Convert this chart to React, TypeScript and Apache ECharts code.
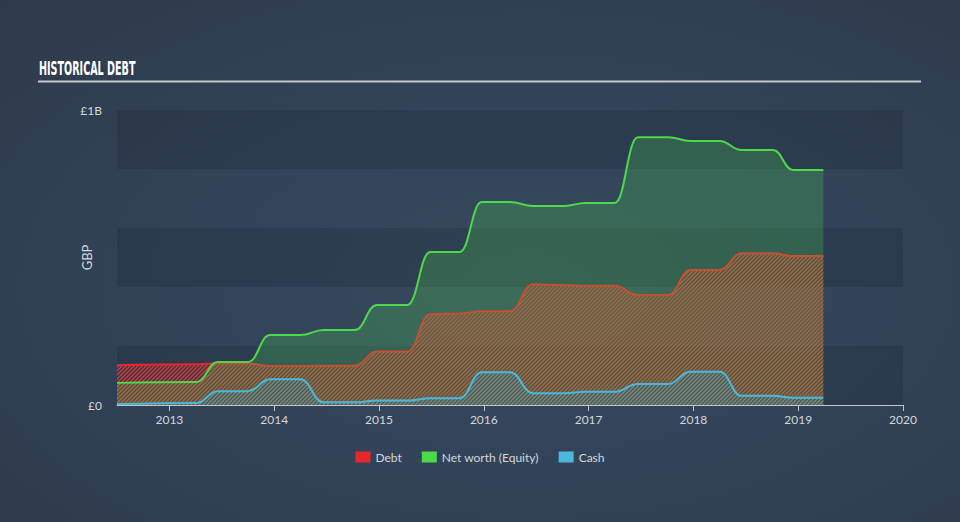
import React, { useEffect, useRef } from "react";
import * as echarts from "echarts";

// Decimal-year dates of the reported points (each value held flat between pairs)
const dates = [
  2012.5, 2013.26, 2013.46, 2013.75, 2013.96, 2014.25, 2014.47, 2014.77, 2014.98,
  2015.27, 2015.49, 2015.77, 2015.98, 2016.25, 2016.47, 2016.77, 2016.97, 2017.25,
  2017.47, 2017.76, 2017.97, 2018.25, 2018.46, 2018.76, 2018.95, 2019.24,
];
// Values in GBP millions
const debt = [
  135, 138, 141, 141, 132, 132, 133, 133, 181, 181, 308, 310, 318, 318, 409, 406,
  404, 404, 373, 373, 458, 458, 514, 514, 505, 505,
];
const equity = [
  75, 78, 146, 146, 237, 237, 254, 254, 339, 339, 519, 519, 688, 688, 675, 675,
  685, 685, 908, 908, 895, 895, 864, 864, 797, 797,
];
const cash = [
  3, 7, 47, 47, 87, 87, 9, 9, 15, 15, 23, 23, 111, 111, 40, 40, 45, 45, 71, 71,
  113, 113, 31, 31, 25, 25,
];
const yearTicks = [2013, 2014, 2015, 2016, 2017, 2018, 2019, 2020];
const seriesNames = ["Debt", "Net worth (Equity)", "Cash"];

function hatch(color: string) {
  const s = 4;
  const c = document.createElement("canvas");
  c.width = s;
  c.height = s;
  const ctx = c.getContext("2d")!;
  ctx.strokeStyle = color;
  ctx.lineWidth = 1.5;
  ctx.beginPath();
  ctx.moveTo(0, s);
  ctx.lineTo(s, 0);
  ctx.moveTo(-s / 2, s / 2);
  ctx.lineTo(s / 2, -s / 2);
  ctx.moveTo(s / 2, (3 * s) / 2);
  ctx.lineTo((3 * s) / 2, s / 2);
  ctx.stroke();
  return { image: c, repeat: "repeat", imageWidth: s, imageHeight: s } as any;
}

export default function App() {
  const ref = useRef<HTMLDivElement>(null);
  useEffect(() => {
    document.body.style.margin = "0";
    const chart = echarts.init(ref.current!, null, { renderer: "svg" });
    const pair = (vals: number[]) => dates.map((d, i) => [d, vals[i]]);
    const font = "Lato, 'Open Sans', sans-serif";
    chart.setOption({
      animation: false,
      backgroundColor: "transparent",
      textStyle: { fontFamily: font },
      graphic: [
        {
          type: "text",
          x: 39,
          y: 58,
          scaleX: 0.48,
          style: {
            text: "HISTORICAL DEBT",
            fill: "#ffffff",
            font: "bold 20px 'DejaVu Sans', sans-serif",
            textVerticalAlign: "top",
          },
        },
        {
          type: "line",
          shape: { x1: 38, y1: 81.5, x2: 921, y2: 81.5 },
          style: { stroke: "#c3c8cd", lineWidth: 2 },
        },
      ],
      legend: {
        data: seriesNames,
        top: 446,
        left: "center",
        icon: "rect",
        itemWidth: 15,
        itemHeight: 11,
        itemGap: 20,
        textStyle: { color: "#d3d7db", fontSize: 12, fontFamily: font },
      },
      grid: { left: 117, right: 57, top: 110, bottom: 117 },
      xAxis: {
        type: "value",
        min: 2012.5,
        max: 2020,
        splitLine: { show: false },
        axisLine: { lineStyle: { color: "#c0c6cc", width: 1 } },
        axisTick: { customValues: yearTicks, length: 6, lineStyle: { color: "#c0c6cc" } },
        axisLabel: {
          customValues: yearTicks,
          color: "#d3d7db",
          fontSize: 12,
          margin: 8,
          formatter: (v: number) => String(Math.round(v)),
        },
      },
      yAxis: {
        type: "value",
        min: 0,
        max: 1000,
        interval: 200,
        name: "GBP",
        nameLocation: "middle",
        nameGap: 24,
        nameRotate: 90,
        nameMoveOverlap: false,
        nameTextStyle: { color: "#d3d7db", fontSize: 13, fontFamily: font },
        axisLine: { show: false },
        axisTick: { show: false },
        splitLine: { show: false },
        splitArea: {
          show: true,
          areaStyle: { color: ["rgba(22,30,44,0.22)", "rgba(0,0,0,0)"] },
        },
        axisLabel: {
          color: "#d3d7db",
          fontSize: 12,
          margin: 15,
          formatter: (v: number) => (v === 0 ? "£0" : v === 1000 ? "£1B" : ""),
        },
      },
      series: [
        {
          name: seriesNames[0],
          type: "line",
          z: 2,
          data: pair(debt),
          smooth: 0.45,
          smoothMonotone: "x",
          showSymbol: false,
          itemStyle: { color: "#e8262b" },
          lineStyle: { color: "#e8262b", width: 2 },
          areaStyle: { color: hatch("rgba(226,56,52,0.95)"), opacity: 1 },
        },
        {
          name: seriesNames[1],
          type: "line",
          z: 3,
          data: pair(equity),
          smooth: 0.45,
          smoothMonotone: "x",
          showSymbol: false,
          itemStyle: { color: "#4cd94b" },
          lineStyle: { color: "#4cd94b", width: 2 },
          areaStyle: { color: "rgba(76,220,76,0.23)", opacity: 1 },
        },
        {
          name: seriesNames[2],
          type: "line",
          z: 4,
          data: pair(cash),
          smooth: 0.45,
          smoothMonotone: "x",
          showSymbol: false,
          itemStyle: { color: "#4ab8dc" },
          lineStyle: { color: "#4ab8dc", width: 2 },
          areaStyle: { color: hatch("rgba(60,170,220,0.45)"), opacity: 1 },
        },
      ],
    });
    return () => chart.dispose();
  }, []);
  return (
    <div
      style={{
        position: "absolute",
        left: 0,
        top: 0,
        width: 960,
        height: 522,
        background:
          "radial-gradient(ellipse at 55% 55%, #384a5d 0%, #33445a 40%, #2d3a4a 100%)",
      }}
    >
      <div ref={ref} style={{ width: 960, height: 522 }} />
    </div>
  );
}
